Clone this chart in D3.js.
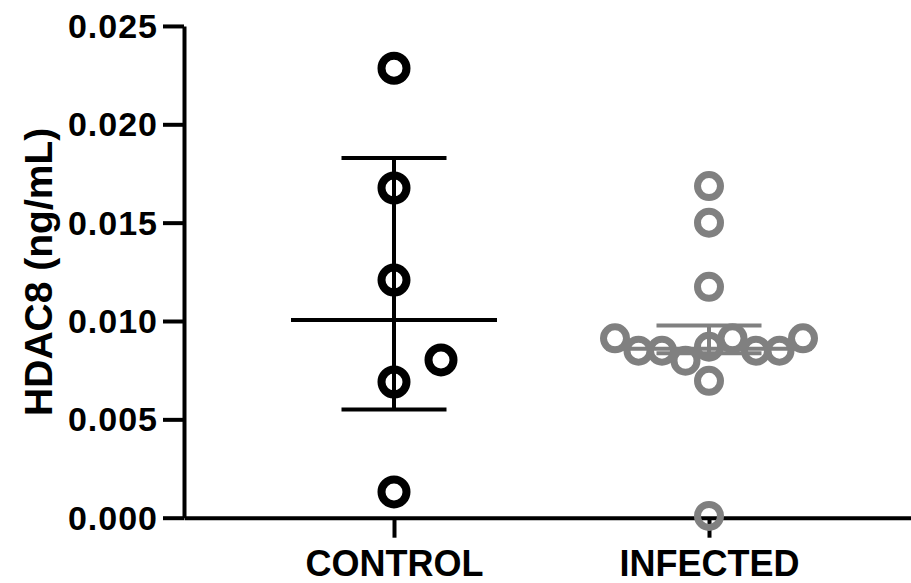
<!DOCTYPE html>
<html>
<head>
<meta charset="utf-8">
<script src="https://cdn.jsdelivr.net/npm/d3@7"></script>
<style>
  html, body { margin: 0; padding: 0; background: #ffffff; }
  svg { display: block; }
  text { font-family: "Liberation Sans", Arial, Helvetica, sans-serif; font-weight: bold; fill: #000; }
</style>
</head>
<body>
<svg id="chart" width="911" height="583"></svg>
<script>
// Groups and measured HDAC8 concentrations (ng/mL)
const categories = ["CONTROL", "INFECTED"];
const controlValues = [0.02285, 0.01676, 0.01208, 0.00690, 0.00131, 0.00802];
const infectedValues = [0.01686, 0.01500, 0.01174, 0.00912, 0.00849, 0.00849, 0.00798,
                        0.00869, 0.00912, 0.00849, 0.00849, 0.00912, 0.00696, 0.00009];
// Swarm column of each point (0 = on the group centre)
const controlColumn = [0, 0, 0, 0, 0, 2];
const infectedColumn = [0, 0, 0, -4, -3, -2, -1, 0, 1, 2, 3, 4, 0, 0];
const yTickValues = [0, 0.005, 0.010, 0.015, 0.020, 0.025];

const groups = [
  { name: categories[0], values: controlValues, column: controlColumn, color: "#000000", r: 12.5, sw: 8 },
  { name: categories[1], values: infectedValues, column: infectedColumn, color: "#808080", r: 11.5, sw: 7 }
];

const svg = d3.select("#chart");

const y = d3.scaleLinear().domain([0, 0.025]).range([517.7, 25.95]);
const x = d3.scalePoint().domain(categories).range([184, 919]).padding(2 / 3);
const colOffset = d3.scaleLinear().domain([0, 1]).range([0, 23.5]);

// Quartiles as computed by the (n+1)p rule
function quantile(values, p) {
  const s = values.slice().sort(d3.ascending);
  const n = s.length;
  const pos = (n + 1) * p;
  const lo = Math.floor(pos), frac = pos - lo;
  if (lo < 1) return s[0];
  if (lo >= n) return s[n - 1];
  return s[lo - 1] + frac * (s[lo] - s[lo - 1]);
}

// Y axis
const yAxis = svg.append("g")
  .attr("transform", `translate(${x.range()[0]},0)`)
  .call(d3.axisLeft(y).tickValues(yTickValues).tickFormat(d3.format(".3f"))
    .tickSize(21).tickSizeOuter(0).tickPadding(5));
yAxis.selectAll("path, line").attr("stroke", "#000").attr("stroke-width", 4);
yAxis.selectAll("text").style("font-size", "34px").style("letter-spacing", "1px")
  .attr("dy", "0.34em").attr("fill", "#000");

// X axis
const xAxis = svg.append("g")
  .attr("transform", `translate(0,${y(0)})`)
  .call(d3.axisBottom(x).tickSize(20).tickSizeOuter(0).tickPadding(13));
xAxis.selectAll("path, line").attr("stroke", "#000").attr("stroke-width", 4);
xAxis.selectAll("text").style("font-size", "36px").attr("fill", "#000");

// Y axis title
svg.append("text")
  .attr("transform", `translate(52,${(y(0) + y(0.025)) / 2}) rotate(-90)`)
  .attr("text-anchor", "middle")
  .style("font-size", "39px")
  .text("HDAC8 (ng/mL)");

// Median with interquartile range, then the individual points
groups.forEach(g => {
  const cx = x(g.name);
  const med = d3.median(g.values);
  const q1 = quantile(g.values, 0.25);
  const q3 = quantile(g.values, 0.75);
  const gg = svg.append("g").attr("stroke", g.color).attr("stroke-width", 4).attr("fill", "none");

  gg.append("line").attr("x1", cx).attr("x2", cx).attr("y1", y(q3)).attr("y2", y(q1));
  gg.append("line").attr("x1", cx - 52.5).attr("x2", cx + 52.5).attr("y1", y(q3)).attr("y2", y(q3));
  gg.append("line").attr("x1", cx - 52.5).attr("x2", cx + 52.5).attr("y1", y(q1)).attr("y2", y(q1));
  gg.append("line").attr("x1", cx - 103).attr("x2", cx + 103).attr("y1", y(med)).attr("y2", y(med));

  svg.append("g").selectAll("circle")
    .data(g.values)
    .join("circle")
    .attr("cx", (d, i) => cx + colOffset(g.column[i]))
    .attr("cy", d => y(d))
    .attr("r", g.r)
    .attr("fill", "none")
    .attr("stroke", g.color)
    .attr("stroke-width", g.sw);
});
</script>
</body>
</html>
